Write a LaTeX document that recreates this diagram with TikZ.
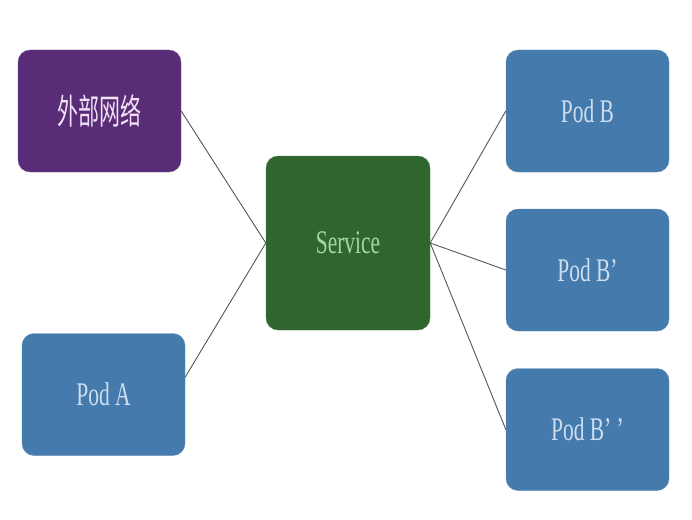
\documentclass[tikz,border=0pt]{standalone}
\usepackage{fontspec}
\usepackage{tikz}
\usetikzlibrary{positioning}
\setmainfont{Liberation Serif}
\newfontfamily\podfont[FakeStretch=0.65]{Liberation Serif}
\newfontfamily\cjk[FakeStretch=0.6]{Noto Sans CJK SC}
\definecolor{netpurple}{RGB}{88,44,118}
\definecolor{svcgreen}{RGB}{46,102,46}
\definecolor{podblue}{RGB}{68,122,172}
\definecolor{podtext}{RGB}{205,222,240}
\definecolor{svctext}{RGB}{165,215,160}
\definecolor{nettext}{RGB}{240,225,245}
\definecolor{linkgray}{RGB}{85,85,85}

\tikzset{
  box/.style={rectangle, rounded corners=12pt, inner sep=0pt,
    minimum width=163pt, minimum height=122pt, font=\podfont\fontsize{33}{33}\selectfont},
  podbox/.style={box, fill=podblue, draw=podblue!85!white, text=podtext},
  link/.style={draw=linkgray, line width=0.9pt}
}

\begin{document}
\begin{tikzpicture}[x=1pt,y=-1pt]
		\useasboundingbox (0,0) rectangle (692,519);
		% Left side: outside network and client pod
		\node[box, fill=netpurple, draw=netpurple!80!white, text=nettext,
		  font=\cjk\fontsize{35}{35}\selectfont] (net) at (99.5,111) {外部网络};
		\node[podbox] (poda) at (103.5,394.5) {Pod A};
		% Service in the middle
		\node[box, fill=svcgreen, draw=svcgreen!80!white, text=svctext,
		  minimum width=164pt, minimum height=174pt] (svc) at (348,243) {Service};
		% Backend pods
		\node[podbox] (podb) at (587.5,111) {Pod B};
		\node[podbox] (podb1) at (587.5,270) {Pod B’};
		\node[podbox] (podb2) at (587.5,429.5) {Pod B’ ’};
		% Links
		\draw[link] (net.east) -- (svc.west);
		\draw[link] (poda.12) -- (svc.west);
		\draw[link] (svc.east) -- (podb.west);
		\draw[link] (svc.east) -- (podb1.west);
		\draw[link] (svc.east) -- (podb2.west);
	\end{tikzpicture}
\end{document}
